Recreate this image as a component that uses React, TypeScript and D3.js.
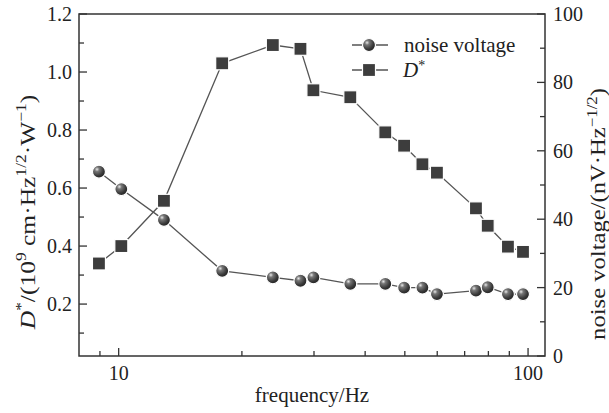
import * as d3 from "d3";

const freq = [8.95, 10.15, 12.9, 17.9, 23.8, 27.8, 29.9, 36.8, 44.8, 49.8, 55.2, 59.9, 74.6, 79.7, 89.3, 97.2];
const dStar = [0.34, 0.4, 0.556, 1.03, 1.093, 1.08, 0.937, 0.913, 0.792, 0.746, 0.682, 0.653, 0.53, 0.47, 0.398, 0.38];
const noise = [53.9, 48.8, 39.8, 24.9, 23.0, 22.0, 23.0, 21.1, 21.1, 20.0, 20.0, 18.1, 19.1, 20.1, 18.1, 18.1];

const leftTicks = [0.2, 0.4, 0.6, 0.8, 1.0, 1.2];
const leftMinor = [0.1, 0.3, 0.5, 0.7, 0.9, 1.1];
const rightTicks = [0, 20, 40, 60, 80, 100];
const rightMinor = [10, 30, 50, 70, 90];
const xTicks = [10, 100];
const xMinor = [9, 20, 30, 40, 50, 60, 70, 80, 90];

const W = 609, H = 413;
const L = 79, R = 545, T = 14, B = 356;
const font = "'Liberation Serif', 'Times New Roman', serif";
const axisColor = "#333";
const lineColor = "#555";

export default function App() {
  const x = d3.scaleLog().domain([8, 110]).range([L, R]);
  const yL = d3.scaleLinear().domain([0.021, 1.2]).range([B, T]);
  const yR = d3.scaleLinear().domain([0, 100]).range([B, T]);

  const dLine = d3.line<number>().x((_, i) => x(freq[i])).y(d => yL(d));
  const nLine = d3.line<number>().x((_, i) => x(freq[i])).y(d => yR(d));

  const sq = 13;
  const rad = 6.5;

  const square = (cx: number, cy: number, k: string) => (
    <rect key={k} x={cx - sq / 2} y={cy - sq / 2} width={sq} height={sq}
      fill="#3d3d3d" stroke="#fff" strokeWidth={1.2} />
  );
  const ball = (cx: number, cy: number, k: string) => (
    <circle key={k} cx={cx} cy={cy} r={rad} fill="url(#sphere)" stroke="#fff" strokeWidth={1.2} />
  );

  return (
    <svg width={W} height={H} style={{ position: "absolute", left: 0, top: 0, background: "#fff" }}
      fontFamily={font}>
      <defs>
        <radialGradient id="sphere" cx="35%" cy="32%" r="70%">
          <stop offset="0%" stopColor="#e8e8e8" />
          <stop offset="25%" stopColor="#777" />
          <stop offset="70%" stopColor="#3a3a3a" />
          <stop offset="100%" stopColor="#222" />
        </radialGradient>
      </defs>

      {/* frame */}
      <rect x={L} y={T} width={R - L} height={B - T} fill="none" stroke={axisColor} strokeWidth={1.5} />

      {/* left axis */}
      {leftTicks.map(t => (
        <g key={"l" + t}>
          <line x1={L} x2={L + 8} y1={yL(t)} y2={yL(t)} stroke={axisColor} strokeWidth={1.3} />
          <text x={L - 7} y={yL(t)} dy="0.35em" textAnchor="end" fontSize={20} fill="#222">{t.toFixed(1)}</text>
        </g>
      ))}
      {leftMinor.map(t => (
        <line key={"lm" + t} x1={L} x2={L + 5} y1={yL(t)} y2={yL(t)} stroke={axisColor} strokeWidth={1.3} />
      ))}

      {/* right axis */}
      {rightTicks.map(t => (
        <g key={"r" + t}>
          <line x1={R} x2={R - 8} y1={yR(t)} y2={yR(t)} stroke={axisColor} strokeWidth={1.3} />
          <text x={R + 8} y={yR(t)} dy="0.35em" textAnchor="start" fontSize={20} fill="#222">{t}</text>
        </g>
      ))}
      {rightMinor.map(t => (
        <line key={"rm" + t} x1={R} x2={R - 5} y1={yR(t)} y2={yR(t)} stroke={axisColor} strokeWidth={1.3} />
      ))}

      {/* bottom axis */}
      {xTicks.map(t => (
        <g key={"x" + t}>
          <line x1={x(t)} x2={x(t)} y1={B} y2={B - 8} stroke={axisColor} strokeWidth={1.3} />
          <text x={x(t)} y={B + 17} dy="0.35em" textAnchor="middle" fontSize={20} fill="#222">{t}</text>
        </g>
      ))}
      {xMinor.map(t => (
        <line key={"xm" + t} x1={x(t)} x2={x(t)} y1={B} y2={B - 5} stroke={axisColor} strokeWidth={1.3} />
      ))}

      {/* titles (the scan is a bit stretched vertically) */}
      <text x={(L + R) / 2} y={395} dy="0.35em" textAnchor="middle" fontSize={21} fill="#222">frequency/Hz</text>
      <text transform="translate(27,212) rotate(-90) scale(1.16,1)" textAnchor="middle" dy="0.35em" fontSize={22} fill="#222">
        <tspan fontStyle="italic">D</tspan>
        <tspan fontSize={15} baselineShift="super">*</tspan>
        <tspan>/(10</tspan>
        <tspan fontSize={15} baselineShift="super">9</tspan>
        <tspan> cm·Hz</tspan>
        <tspan fontSize={15} baselineShift="super">1/2</tspan>
        <tspan>·W</tspan>
        <tspan fontSize={15} baselineShift="super">−1</tspan>
        <tspan>)</tspan>
      </text>
      <text transform="translate(597,214) rotate(-90) scale(1.12,1)" textAnchor="middle" dy="0.35em" fontSize={22} fill="#222">
        <tspan>noise voltage/(nV·Hz</tspan>
        <tspan fontSize={15} baselineShift="super">−1/2</tspan>
        <tspan>)</tspan>
      </text>

      {/* series */}
      <path d={dLine(dStar) || ""} fill="none" stroke={lineColor} strokeWidth={1.3} />
      <path d={nLine(noise) || ""} fill="none" stroke={lineColor} strokeWidth={1.3} />
      {dStar.map((v, i) => square(x(freq[i]), yL(v), "s" + i))}
      {noise.map((v, i) => ball(x(freq[i]), yR(v), "c" + i))}

      {/* legend */}
      <line x1={352} x2={388} y1={45} y2={45} stroke={lineColor} strokeWidth={1.3} />
      {ball(369, 45, "lg1")}
      <text x={404} y={45} dy="0.35em" fontSize={21} fill="#222">noise voltage</text>
      <line x1={352} x2={388} y1={70} y2={70} stroke={lineColor} strokeWidth={1.3} />
      {square(369, 70, "lg2")}
      <text x={403} y={70} dy="0.35em" fontSize={21} fill="#222">
        <tspan fontStyle="italic">D</tspan>
        <tspan fontSize={14} baselineShift="super">*</tspan>
      </text>
    </svg>
  );
}
